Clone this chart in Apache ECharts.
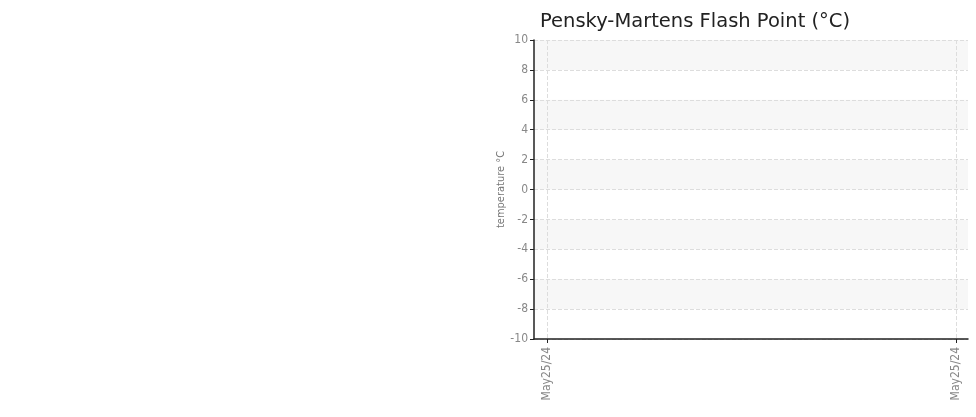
<!DOCTYPE html>
<html>
<head>
<meta charset="utf-8">
<script src="https://cdn.jsdelivr.net/npm/echarts@6/dist/echarts.min.js"></script>
<style>
html,body{margin:0;padding:0;background:#fff;}
#chart{width:976px;height:417px;}
</style>
</head>
<body>
<div id="chart"></div>
<script>
var titleText = 'Pensky-Martens Flash Point (°C)';
var yAxisName = 'temperature °C';
var dateLabels = ['May25/24', 'May25/24'];
var xPositions = [0, 1];
var flashPointValues = [];
var yMin = -10, yMax = 10, yInterval = 2;

var chart = echarts.init(document.getElementById('chart'));
var narrow = "'Liberation Sans Narrow', 'Arial Narrow', 'DejaVu Sans Condensed', sans-serif";
chart.setOption({
  animation: false,
  title: {
    text: titleText,
    left: 535, top: 7,
    textStyle: { fontFamily: 'DejaVu Sans', fontSize: 19.5, fontWeight: 'normal', color: '#222' }
  },
  grid: { left: 534, right: 8, top: 40, bottom: 78, containLabel: false },
  xAxis: {
    type: 'value',
    min: -0.032, max: 1.029,
    axisLine: { show: true, onZero: false, lineStyle: { color: '#222', width: 1.5 } },
    axisTick: { show: true, customValues: xPositions, length: 4, lineStyle: { color: '#222' } },
    axisLabel: {
      customValues: xPositions,
      rotate: 90,
      color: '#888',
      fontFamily: narrow,
      fontSize: 12,
      formatter: function (v) { return dateLabels[Math.round(v)]; }
    },
    splitLine: { show: true, customValues: xPositions, lineStyle: { type: 'dashed', color: '#ddd' } }
  },
  yAxis: {
    type: 'value',
    min: yMin, max: yMax, interval: yInterval,
    name: yAxisName,
    nameLocation: 'middle',
    nameGap: 26,
    nameTextStyle: { color: '#777', fontFamily: narrow, fontSize: 11 },
    axisLine: { show: true, onZero: false, lineStyle: { color: '#222', width: 1.5 } },
    axisTick: { show: true, length: 4, lineStyle: { color: '#222' } },
    axisLabel: { color: '#888', fontFamily: narrow, fontSize: 12, margin: 6 },
    splitLine: { show: true, lineStyle: { type: 'dashed', color: '#ddd' } },
    splitArea: { show: true, areaStyle: { color: ['#ffffff', '#f7f7f7'] } }
  },
  series: [{
    type: 'line',
    data: flashPointValues
  }]
});
</script>
</body>
</html>
